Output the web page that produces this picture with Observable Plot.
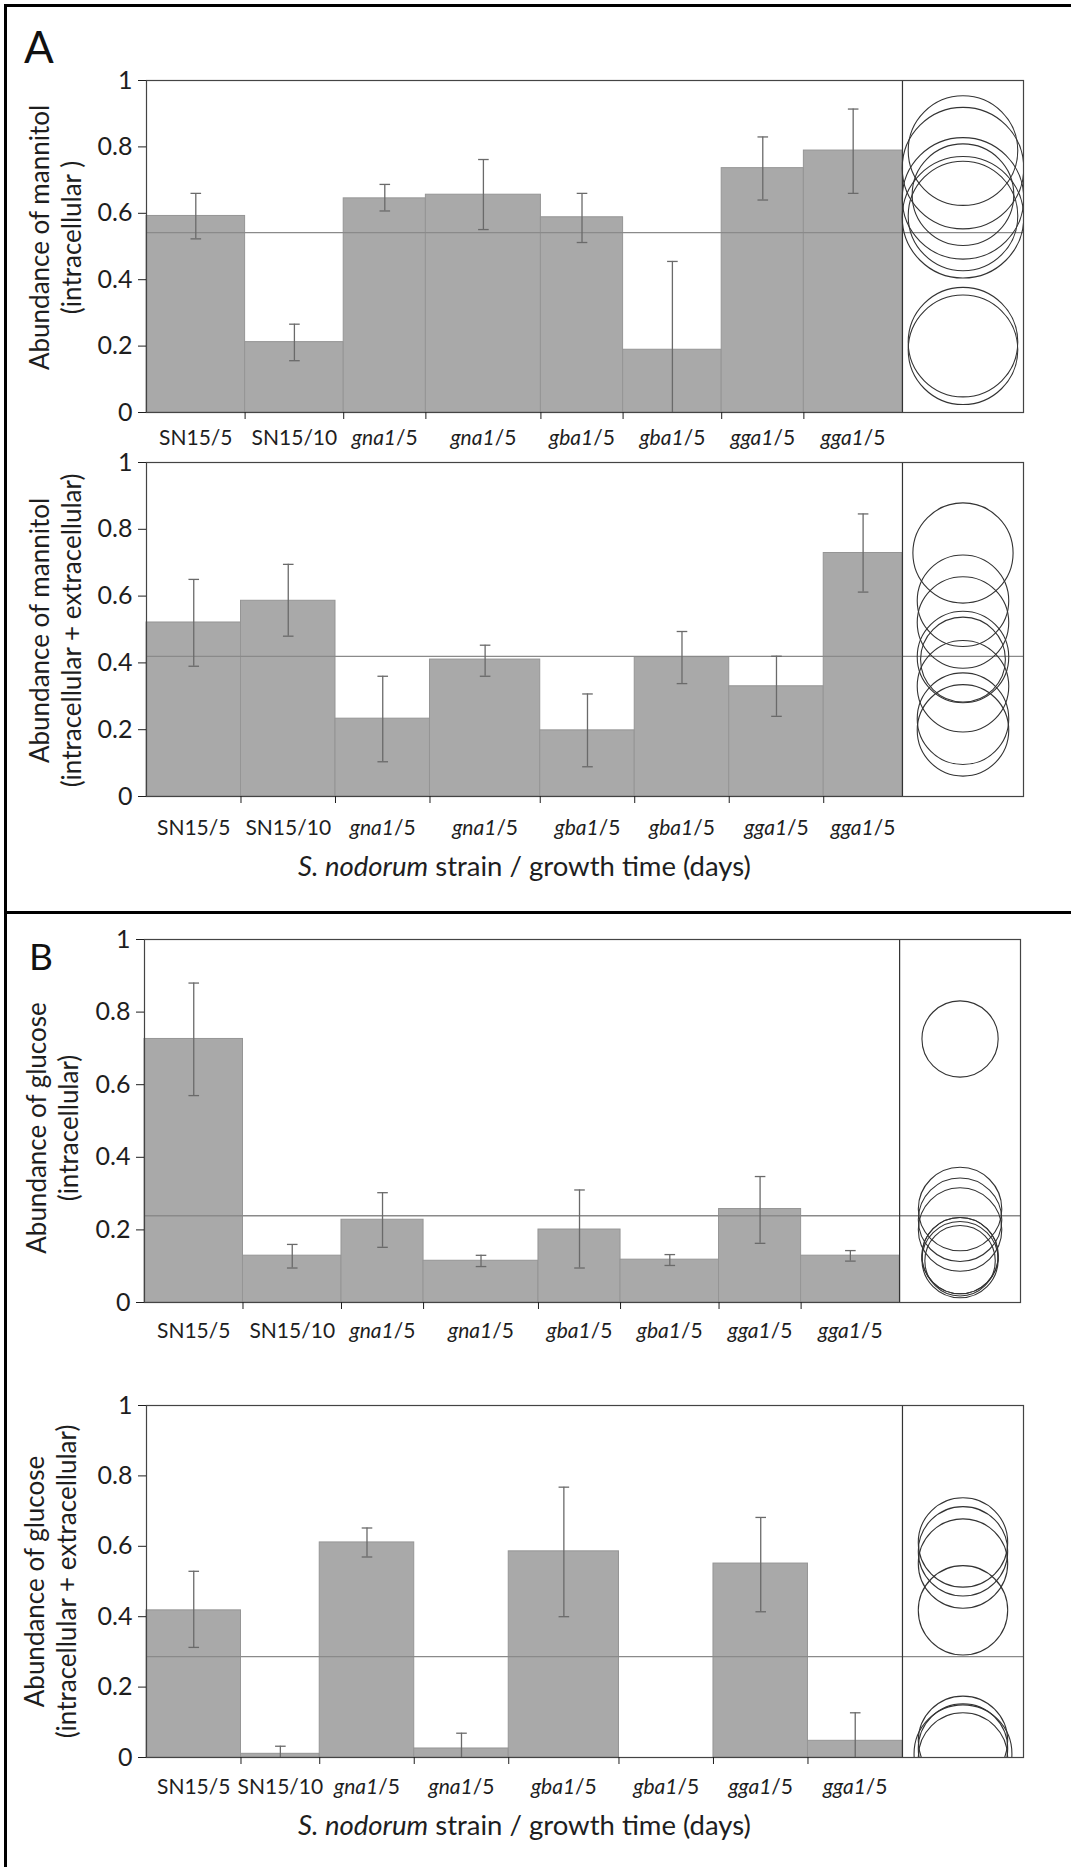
<!DOCTYPE html>
<html><head><meta charset="utf-8">
<script src="https://cdn.jsdelivr.net/npm/d3@7"></script>
<script src="https://cdn.jsdelivr.net/npm/@observablehq/plot@0.6"></script>
<style>
body{margin:0;background:#fff;font-family:Lato,sans-serif}
#fig{position:relative;width:1071px;height:1867px;overflow:hidden;background:#fff}
.panel{position:absolute;left:0}
.border{position:absolute;background:#000}
.letter{position:absolute;font-family:Lato,sans-serif;color:#111;line-height:1}
</style></head><body>
<div id="fig">
 <div class="border" style="left:4px;top:4px;width:3px;height:1863px"></div>
 <div class="border" style="left:4px;top:4px;width:1067px;height:3px"></div>
 <div class="border" style="left:4px;top:911px;width:1067px;height:3px"></div>
 <div class="letter" style="left:24px;top:24px;font-size:44px">A</div>
 <div class="letter" style="left:29px;top:937px;font-size:37px">B</div>
</div>
<script>
// ---- data ----
const labels = ["SN15/5","SN15/10","gna1/5","gna1/5","gba1/5","gba1/5","gga1/5","gga1/5"];
const yTicks = [0, 0.2, 0.4, 0.6, 0.8, 1];

// A (top): mannitol, intracellular
const manIntraN    = [6, 6, 5, 7, 5, 6, 5, 6];
const manIntraMean = [0.592, 0.212, 0.645, 0.656, 0.588, 0.189, 0.736, 0.789];
const manIntraHi   = [0.660, 0.266, 0.687, 0.762, 0.660, 0.455, 0.830, 0.914];
const manIntraLo   = [0.523, 0.156, 0.607, 0.551, 0.512, -0.077, 0.640, 0.660];
const manIntraRad  = [0.165, 0.165, 0.183, 0.153, 0.183, 0.165, 0.183, 0.165];
const manIntraGrand = 0.542;

// A (bottom): mannitol, intracellular + extracellular
const manTotN    = [6, 6, 6, 7, 6, 6, 6, 5];
const manTotMean = [0.521, 0.586, 0.233, 0.410, 0.198, 0.4175, 0.330, 0.729];
const manTotHi   = [0.650, 0.695, 0.360, 0.453, 0.307, 0.494, 0.420, 0.846];
const manTotLo   = [0.390, 0.480, 0.104, 0.360, 0.089, 0.338, 0.240, 0.612];
const manTotRad  = [0.137, 0.137, 0.137, 0.127, 0.137, 0.137, 0.137, 0.150];
const manTotGrand = 0.4195;

// B (top): glucose, intracellular
const gluIntraN    = [6, 6, 5, 7, 5, 6, 5, 6];
const gluIntraMean = [0.726, 0.129, 0.228, 0.115, 0.201, 0.118, 0.2575, 0.129];
const gluIntraHi   = [0.880, 0.160, 0.3025, 0.130, 0.310, 0.132, 0.347, 0.143];
const gluIntraLo   = [0.570, 0.095, 0.152, 0.099, 0.095, 0.102, 0.163, 0.114];
const gluIntraRad  = [0.105, 0.105, 0.115, 0.097, 0.115, 0.105, 0.115, 0.105];
const gluIntraGrand = 0.239;

// B (bottom): glucose, intracellular + extracellular
const gluTotN    = [6, 5, 6, 6, 7, 6, 6, 6];
const gluTotMean = [0.418, 0.0105, 0.611, 0.0256, 0.5857, 0, 0.551, 0.0474];
const gluTotHi   = [0.529, 0.032, 0.652, 0.069, 0.768, null, 0.682, 0.127];
const gluTotLo   = [0.3128, -0.011, 0.5696, -0.018, 0.400, null, 0.414, -0.032];
const gluTotRad  = [0.127, 0.139, 0.127, 0.127, 0.127, 0.127, 0.127, 0.127];
const gluTotGrand = 0.2863;

const xTitle = "S. nodorum strain / growth time (days)";

// ---- drawing ----
const circleFrac = 0.138;
const capSymbol = {draw(ctx, size){ const w = Math.sqrt(size/Math.PI); ctx.moveTo(-w,0); ctx.lineTo(w,0); }};

function panel(o){
  const total = d3.sum(o.n);
  const xMax = total/(1-circleFrac);
  const cx = total + (xMax-total)/2;
  let acc = 0;
  const rows = labels.map((label,i)=>{
    const x1 = acc; acc += o.n[i];
    return {label, x1, x2: acc, xc: (x1+acc)/2, mean: o.mean[i], lo: o.lo[i], hi: o.hi[i], rad: o.rad[i]};
  });
  const err = rows.filter(r => r.hi != null);
  const centers = rows.map(r=>r.xc);
  const bounds = rows.slice(1).map(r=>r.x1);
  const labelMap = new Map(rows.map(r=>[r.xc, r.label]));
  const innerH = o.height - o.mt - o.mb;
  const marks = [
    Plot.rect(rows, {x1:"x1", x2:"x2", y1:0, y2:"mean", fill:"#a9a9a9", stroke:"#959595", strokeWidth:1}),
    Plot.ruleY([o.grand], {stroke:"#8a8a8a", strokeWidth:1.3}),
    Plot.ruleX(err, {x:"xc", y1:"lo", y2:"hi", stroke:"#6a6a6a", strokeWidth:1.3, clip:true}),
    Plot.dot(err, {x:"xc", y:"hi", symbol:capSymbol, r:5.3, stroke:"#6a6a6a", strokeWidth:1.3, clip:true}),
    Plot.dot(err, {x:"xc", y:"lo", symbol:capSymbol, r:5.3, stroke:"#6a6a6a", strokeWidth:1.3, clip:true}),
    Plot.dot(rows, {x:cx, y:"mean", r:"rad", stroke:"#333", fill:"none", strokeWidth:1.1, clip:true}),
    Plot.ruleX([total], {stroke:"#333", strokeWidth:1.2}),
    Plot.frame({stroke:"#444", strokeWidth:1.2}),
    Plot.axisY({ticks:yTicks, tickSize:8, tickPadding:6, tickFormat:d=>String(+d.toFixed(1)), fontSize:25, label:null}),
    Plot.axisX({ticks:bounds, tickSize:7, tickFormat:()=>"", label:null}),
    Plot.axisX({ticks:centers, tickSize:0, tickPadding:o.labelPad, tickFormat:d=>labelMap.get(d), fontSize:21, label:null}),
    Plot.text([o.ytitle], {frameAnchor:"left", textAnchor:"middle", lineAnchor:"middle", rotate:-90, dx:o.titleDx, dy:o.titleDy, lineHeight:1.25, fontSize:26})
  ];
  if (o.xtitle) marks.push(Plot.text([o.xtitle], {x: total/2, frameAnchor:"bottom", textAnchor:"middle", dy:o.xtitleDy, fontSize:27.5}));
  const svg = Plot.plot({
    width:1071, height:o.height, marginTop:o.mt, marginBottom:o.mb, marginLeft:o.ml, marginRight:o.mr,
    style:{fontFamily:"Lato, sans-serif", color:"#1e1e1e", background:"transparent", overflow:"visible"},
    x:{domain:[0,xMax]},
    y:{domain:[0,1]},
    r:{type:"linear", domain:[0,1], range:[0,innerH]},
    marks
  });
  const s = d3.select(svg);
  s.selectAll('g[aria-label="x-axis tick label"] text').each(function(){
    const m = this.textContent.match(/^([a-z]+\d)(\/\d+)$/);
    if (m){ const t=d3.select(this); t.text(""); t.append("tspan").attr("font-style","italic").text(m[1]); t.append("tspan").text(m[2]); }
  });
  s.selectAll("text").filter(function(){ return this.textContent === xTitle; }).each(function(){
    const t=d3.select(this); t.text("");
    t.append("tspan").attr("font-style","italic").text("S. nodorum");
    t.append("tspan").text(" strain / growth time (days)");
  });
  const div = document.createElement("div");
  div.className = "panel"; div.style.top = o.top + "px";
  div.appendChild(svg);
  document.getElementById("fig").appendChild(div);
}

panel({n:manIntraN, mean:manIntraMean, lo:manIntraLo, hi:manIntraHi, rad:manIntraRad, grand:manIntraGrand,
  top:60, height:412, mt:20, mb:60, ml:146, mr:48, labelPad:18,
  ytitle:"Abundance of mannitol\n(intracellular )", titleDx:-92, titleDy:-9});
panel({n:manTotN, mean:manTotMean, lo:manTotLo, hi:manTotHi, rad:manTotRad, grand:manTotGrand,
  top:442, height:454, mt:20, mb:100, ml:146, mr:48, labelPad:24,
  ytitle:"Abundance of mannitol\n(intracellular + extracellular)", titleDx:-92, titleDy:1,
  xtitle:xTitle, xtitleDy:79});
panel({n:gluIntraN, mean:gluIntraMean, lo:gluIntraLo, hi:gluIntraHi, rad:gluIntraRad, grand:gluIntraGrand,
  top:919, height:443, mt:20, mb:60, ml:144, mr:51, labelPad:21,
  ytitle:"Abundance of glucose\n(intracellular)", titleDx:-93, titleDy:7});
panel({n:gluTotN, mean:gluTotMean, lo:gluTotLo, hi:gluTotHi, rad:gluTotRad, grand:gluTotGrand,
  top:1385, height:472, mt:20, mb:100, ml:146, mr:48, labelPad:22,
  ytitle:"Abundance of glucose\n(intracellular + extracellular)", titleDx:-97, titleDy:0,
  xtitle:xTitle, xtitleDy:77});
</script>
</body></html>
